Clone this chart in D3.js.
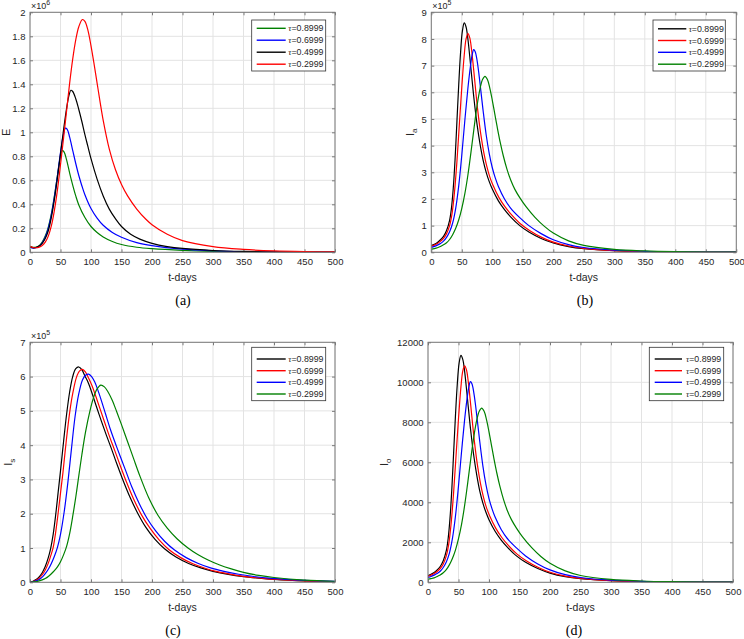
<!DOCTYPE html>
<html><head><meta charset="utf-8">
<script src="https://cdn.jsdelivr.net/npm/d3@7"></script>
<style>body{margin:0;background:#fff}svg{display:block}</style>
</head><body>
<svg id="chart" width="744" height="639"></svg>
<script>
// ---------- data ----------
const tauLabels = ["0.8999", "0.6999", "0.4999", "0.2999"];
const xTickVals = [0, 50, 100, 150, 200, 250, 300, 350, 400, 450, 500];
const yTicksE = [0, 0.2, 0.4, 0.6, 0.8, 1, 1.2, 1.4, 1.6, 1.8, 2];
const yTicksIa = [0, 1, 2, 3, 4, 5, 6, 7, 8, 9];
const yTicksIs = [0, 1, 2, 3, 4, 5, 6, 7];
const yTicksIo = [0, 2000, 4000, 6000, 8000, 10000, 12000];

// (a) E, units of 1e6 : [t, value]
const E_tau08999 = [[0,0.05],[5,0.042],[10,0.043],[15,0.055],[20,0.085],[25,0.135],[30,0.21],[35,0.32],[40,0.47],[45,0.64],[50,0.8],[53,0.85],[56,0.835],[60,0.77],[65,0.66],[70,0.56],[75,0.47],[80,0.395],[90,0.29],[100,0.215],[110,0.165],[120,0.128],[135,0.09],[150,0.065],[175,0.042],[200,0.03],[250,0.016],[300,0.008],[350,0.004],[400,0.002],[450,0.001],[500,0.0005]];
const E_tau06999 = [[0,0.04],[5,0.035],[10,0.038],[15,0.05],[20,0.078],[25,0.125],[30,0.2],[35,0.31],[40,0.46],[45,0.64],[50,0.83],[54,0.96],[58,1.035],[61,1.025],[65,0.96],[70,0.85],[75,0.74],[80,0.64],[85,0.555],[90,0.48],[100,0.365],[110,0.285],[120,0.225],[135,0.165],[150,0.125],[175,0.08],[200,0.055],[250,0.026],[300,0.013],[350,0.006],[400,0.003],[450,0.0015],[500,0.0007]];
const E_tau04999 = [[0,0.045],[5,0.038],[10,0.04],[15,0.052],[20,0.075],[25,0.115],[30,0.18],[35,0.29],[40,0.44],[45,0.62],[50,0.82],[55,1.02],[60,1.2],[64,1.31],[67,1.35],[70,1.34],[75,1.28],[80,1.19],[85,1.09],[90,0.98],[95,0.88],[100,0.78],[110,0.61],[120,0.47],[130,0.36],[140,0.28],[150,0.215],[165,0.15],[180,0.11],[200,0.075],[225,0.048],[250,0.032],[300,0.015],[350,0.007],[400,0.0035],[450,0.0017],[500,0.0008]];
const E_tau02999 = [[0,0.05],[5,0.04],[10,0.038],[15,0.043],[20,0.057],[25,0.085],[30,0.135],[35,0.22],[40,0.35],[45,0.52],[50,0.73],[55,0.95],[60,1.18],[65,1.41],[70,1.61],[75,1.77],[80,1.88],[86,1.94],[90,1.925],[95,1.85],[100,1.72],[105,1.57],[110,1.41],[115,1.25],[120,1.1],[130,0.86],[140,0.69],[150,0.565],[160,0.47],[175,0.36],[190,0.275],[200,0.23],[225,0.15],[250,0.097],[300,0.047],[350,0.024],[400,0.012],[450,0.006],[500,0.003]];

// (b) Ia, units of 1e5
const Ia_tau08999 = [[0,0.25],[5,0.3],[10,0.37],[15,0.47],[20,0.6],[25,0.82],[30,1.2],[33,1.65],[36,2.4],[39,3.5],[42,4.9],[45,6.3],[48,7.5],[51,8.3],[54,8.6],[57,8.45],[60,8.0],[63,7.35],[66,6.65],[70,5.75],[75,4.8],[80,4.05],[85,3.45],[90,3.0],[95,2.65],[100,2.37],[110,1.93],[120,1.6],[130,1.33],[145,1.0],[160,0.76],[180,0.52],[200,0.35],[225,0.215],[250,0.135],[300,0.06],[350,0.028],[400,0.013],[450,0.006],[500,0.003]];
const Ia_tau06999 = [[0,0.22],[5,0.27],[10,0.33],[15,0.41],[20,0.52],[25,0.7],[30,1.0],[34,1.45],[38,2.25],[42,3.4],[46,4.8],[50,6.2],[54,7.4],[57,8.0],[60,8.2],[63,8.05],[66,7.6],[69,6.95],[72,6.25],[76,5.35],[81,4.45],[86,3.75],[91,3.22],[96,2.82],[101,2.52],[111,2.05],[121,1.7],[131,1.42],[146,1.07],[161,0.82],[181,0.56],[200,0.38],[225,0.235],[250,0.15],[300,0.066],[350,0.03],[400,0.014],[450,0.007],[500,0.003]];
const Ia_tau04999 = [[0,0.18],[5,0.22],[10,0.27],[15,0.33],[20,0.42],[25,0.56],[30,0.77],[35,1.1],[40,1.65],[45,2.5],[50,3.65],[55,4.95],[60,6.15],[64,6.95],[67,7.4],[69.5,7.6],[72,7.52],[75,7.2],[78,6.7],[81,6.1],[85,5.3],[90,4.4],[95,3.7],[100,3.17],[105,2.78],[110,2.47],[120,2.0],[130,1.66],[145,1.3],[160,1.0],[180,0.7],[200,0.47],[225,0.29],[250,0.18],[300,0.08],[350,0.036],[400,0.016],[450,0.007],[500,0.003]];
const Ia_tau02999 = [[0,0.12],[5,0.14],[10,0.17],[15,0.22],[20,0.28],[25,0.36],[30,0.48],[35,0.66],[40,0.9],[45,1.22],[50,1.65],[55,2.2],[60,2.9],[65,3.75],[70,4.65],[75,5.5],[80,6.15],[84,6.48],[88,6.6],[92,6.48],[96,6.15],[100,5.7],[104,5.2],[108,4.7],[113,4.12],[118,3.62],[124,3.12],[130,2.72],[137,2.36],[145,2.05],[155,1.72],[170,1.31],[185,0.98],[200,0.72],[225,0.43],[250,0.26],[300,0.11],[350,0.05],[400,0.022],[450,0.01],[500,0.004]];

// (c) Is, units of 1e5
const Is_tau08999 = [[0,0],[5,0.03],[10,0.08],[15,0.16],[20,0.28],[25,0.46],[30,0.72],[34,1.0],[38,1.4],[42,1.95],[46,2.6],[50,3.25],[55,4.1],[60,4.9],[65,5.55],[70,6.0],[75,6.23],[80,6.28],[85,6.2],[90,6.02],[96,5.8],[102,5.5],[109,5.12],[117,4.7],[125,4.3],[133,3.92],[142,3.47],[152,3.0],[164,2.48],[177,2.0],[190,1.6],[205,1.25],[221,0.97],[240,0.73],[260,0.55],[280,0.42],[300,0.32],[325,0.23],[350,0.165],[375,0.12],[400,0.085],[450,0.042],[500,0.02]];
const Is_tau06999 = [[0,0],[5,0.02],[10,0.06],[15,0.12],[20,0.22],[25,0.36],[30,0.56],[35,0.83],[38,1.02],[42,1.45],[46,2.0],[50,2.6],[54,3.2],[59,4.05],[65,4.95],[70,5.5],[76,5.97],[81,6.16],[86,6.21],[91,6.13],[96,5.96],[102,5.72],[108,5.42],[115,5.05],[123,4.63],[131,4.22],[139,3.84],[148,3.4],[158,2.93],[170,2.42],[183,1.96],[197,1.57],[212,1.23],[228,0.95],[247,0.72],[267,0.54],[287,0.41],[307,0.31],[332,0.225],[357,0.16],[382,0.115],[405,0.083],[450,0.044],[500,0.021]];
const Is_tau04999 = [[0,0],[5,0.015],[10,0.04],[15,0.08],[20,0.15],[25,0.25],[30,0.38],[35,0.55],[40,0.76],[45,1.02],[50,1.4],[56,2.05],[62,2.9],[68,3.9],[74,4.85],[80,5.5],[86,5.9],[91,6.04],[96,6.07],[101,6.0],[106,5.85],[111,5.62],[117,5.3],[124,4.9],[132,4.45],[140,4.05],[148,3.67],[157,3.25],[167,2.78],[179,2.3],[192,1.86],[206,1.5],[221,1.19],[237,0.94],[256,0.72],[276,0.55],[296,0.42],[318,0.32],[342,0.235],[367,0.17],[392,0.12],[420,0.085],[450,0.058],[500,0.027]];
const Is_tau02999 = [[0,0],[5,0.01],[10,0.02],[15,0.04],[20,0.07],[25,0.11],[30,0.17],[35,0.25],[40,0.34],[45,0.45],[50,0.6],[55,0.8],[60,1.05],[65,1.42],[70,1.92],[75,2.48],[79,2.98],[85,3.72],[91,4.38],[98,4.98],[104,5.38],[110,5.64],[116,5.75],[122,5.7],[128,5.55],[135,5.3],[142,4.98],[150,4.6],[160,4.1],[170,3.6],[181,3.06],[195,2.45],[210,1.95],[225,1.58],[241,1.27],[259,1.0],[275,0.81],[292,0.65],[310,0.51],[330,0.39],[350,0.29],[375,0.2],[400,0.14],[450,0.065],[500,0.03]];

// (d) Io
const Io_tau08999 = [[0,330],[5,400],[10,490],[15,620],[20,790],[25,1080],[30,1580],[33,2180],[36,3170],[39,4620],[42,6470],[45,8320],[48,9900],[51,10960],[54,11350],[57,11150],[60,10560],[63,9700],[66,8780],[70,7590],[75,6340],[80,5350],[85,4550],[90,3960],[95,3500],[100,3130],[110,2550],[120,2110],[130,1760],[145,1320],[160,1000],[180,690],[200,460],[225,280],[250,180],[300,80],[350,37],[400,17],[450,8],[500,4]];
const Io_tau06999 = [[0,290],[5,360],[10,440],[15,540],[20,690],[25,920],[30,1320],[34,1910],[38,2970],[42,4490],[46,6340],[50,8180],[54,9770],[57,10560],[60,10820],[63,10630],[66,10030],[69,9170],[72,8250],[76,7060],[81,5870],[86,4950],[91,4250],[96,3720],[101,3330],[111,2710],[121,2240],[131,1870],[146,1410],[161,1080],[181,740],[200,500],[225,310],[250,200],[300,87],[350,40],[400,18],[450,9],[500,4]];
const Io_tau04999 = [[0,240],[5,290],[10,360],[15,440],[20,550],[25,740],[30,1020],[35,1450],[40,2180],[45,3300],[50,4820],[55,6530],[60,8120],[64,9170],[67,9770],[69.5,10030],[72,9930],[75,9500],[78,8840],[81,8050],[85,7000],[90,5810],[95,4880],[100,4180],[105,3670],[110,3260],[120,2640],[130,2190],[145,1720],[160,1320],[180,920],[200,620],[225,380],[250,240],[300,106],[350,48],[400,21],[450,9],[500,4]];
const Io_tau02999 = [[0,160],[5,185],[10,220],[15,290],[20,370],[25,480],[30,630],[35,870],[40,1190],[45,1610],[50,2180],[55,2900],[60,3830],[65,4950],[70,6140],[75,7260],[80,8120],[84,8550],[88,8710],[92,8550],[96,8120],[100,7520],[104,6860],[108,6200],[113,5440],[118,4780],[124,4120],[130,3590],[137,3120],[145,2710],[155,2270],[170,1730],[185,1290],[200,950],[225,570],[250,340],[300,145],[350,66],[400,29],[450,13],[500,5]];

// ---------- styles / layout ----------
const GREEN = "#008000", BLUE = "#0000ff", BLACK = "#000000", RED = "#ff0000";
const SANS = "'Liberation Sans', Arial, Helvetica, sans-serif";
const SERIF = "'Liberation Serif', 'DejaVu Serif', serif";
const TXT = "#262626";

const panels = [
  { left: 30, right: 335, top: 12.3, bottom: 252.3, yMax: 2, yTicks: yTicksE, exp: "6",
    ylab: "E", sub: null, ylabX: 6,
    series: [[E_tau08999, GREEN], [E_tau06999, BLUE], [E_tau04999, BLACK], [E_tau02999, RED]],
    legend: { x: 251.7, y: 20, w: 74, h: 51, lx0: 256.7, lx1: 285.7, tx: 288.3, rows: [28.3, 40.2, 52.2, 64.2] },
    caption: "(a)", capX: 183 },
  { left: 431.3, right: 736.3, top: 12.3, bottom: 252.3, yMax: 9, yTicks: yTicksIa, exp: "5",
    ylab: "I", sub: "a", ylabX: 410,
    series: [[Ia_tau08999, BLACK], [Ia_tau06999, RED], [Ia_tau04999, BLUE], [Ia_tau02999, GREEN]],
    legend: { x: 653, y: 20, w: 72.3, h: 51, lx0: 658, lx1: 686.3, tx: 688.7, rows: [28.8, 40.5, 52.3, 64.2] },
    caption: "(b)", capX: 585 },
  { left: 30, right: 335, top: 342.3, bottom: 582.3, yMax: 7, yTicks: yTicksIs, exp: "5",
    ylab: "I", sub: "s", ylabX: 8,
    series: [[Is_tau08999, BLACK], [Is_tau06999, RED], [Is_tau04999, BLUE], [Is_tau02999, GREEN]],
    legend: { x: 251.7, y: 347.3, w: 74, h: 53.4, lx0: 256.7, lx1: 285.7, tx: 288.3, rows: [359, 370.7, 382.3, 394] },
    caption: "(c)", capX: 173 },
  { left: 428, right: 733, top: 342.3, bottom: 582.3, yMax: 12000, yTicks: yTicksIo, exp: null,
    ylab: "I", sub: "o", ylabX: 384,
    series: [[Io_tau08999, BLACK], [Io_tau06999, RED], [Io_tau04999, BLUE], [Io_tau02999, GREEN]],
    legend: { x: 649.3, y: 347.3, w: 74.4, h: 53.4, lx0: 654.7, lx1: 682, tx: 686, rows: [359, 370.7, 382.3, 394] },
    caption: "(d)", capX: 574 }
];

const svg = d3.select("#chart");

panels.forEach(p => {
  const x = d3.scaleLinear().domain([0, 500]).range([p.left, p.right]);
  const y = d3.scaleLinear().domain([0, p.yMax]).range([p.bottom, p.top]);
  const g = svg.append("g");

  // grid
  g.append("g").selectAll("line").data(xTickVals).join("line")
    .attr("x1", d => x(d)).attr("x2", d => x(d)).attr("y1", p.top).attr("y2", p.bottom)
    .attr("stroke", "#e3e3e3").attr("stroke-width", 1);
  g.append("g").selectAll("line").data(p.yTicks).join("line")
    .attr("y1", d => y(d)).attr("y2", d => y(d)).attr("x1", p.left).attr("x2", p.right)
    .attr("stroke", "#e3e3e3").attr("stroke-width", 1);

  // axes
  const fmt = d => String(d);
  const xb = g.append("g").attr("transform", `translate(0,${p.bottom})`)
    .call(d3.axisBottom(x).tickValues(xTickVals).tickFormat(fmt).tickSizeInner(-3).tickSizeOuter(0).tickPadding(6));
  const yl = g.append("g").attr("transform", `translate(${p.left},0)`)
    .call(d3.axisLeft(y).tickValues(p.yTicks).tickFormat(fmt).tickSizeInner(-3).tickSizeOuter(0).tickPadding(4.5));
  const xt = g.append("g").attr("transform", `translate(0,${p.top})`)
    .call(d3.axisTop(x).tickValues(xTickVals).tickFormat("").tickSizeInner(-3).tickSizeOuter(0));
  const yr = g.append("g").attr("transform", `translate(${p.right},0)`)
    .call(d3.axisRight(y).tickValues(p.yTicks).tickFormat("").tickSizeInner(-3).tickSizeOuter(0));
  [xb, yl, xt, yr].forEach(a => {
    a.select(".domain").remove();
    a.selectAll(".tick line").attr("stroke", "#7a7a7a");
    a.selectAll("text").attr("fill", TXT).style("font-family", SANS).style("font-size", "9.5px");
  });

  // lines
  const line = d3.line().x(d => x(d[0])).y(d => y(d[1])).curve(d3.curveCatmullRom.alpha(0.5));
  const clipId = "clip" + p.caption.replace(/[()]/g, "");
  svg.append("clipPath").attr("id", clipId).append("rect")
    .attr("x", p.left).attr("y", p.top - 1).attr("width", p.right - p.left).attr("height", p.bottom - p.top + 1);
  g.append("g").attr("clip-path", `url(#${clipId})`).selectAll("path").data(p.series).join("path")
    .attr("d", d => line(d[0])).attr("fill", "none").attr("stroke", d => d[1]).attr("stroke-width", 1.2);

  // box
  g.append("rect").attr("x", p.left).attr("y", p.top).attr("width", p.right - p.left).attr("height", p.bottom - p.top)
    .attr("fill", "none").attr("stroke", "#7a7a7a").attr("stroke-width", 1);

  // x label
  g.append("text").attr("x", (p.left + p.right) / 2).attr("y", p.bottom + 28.5)
    .attr("text-anchor", "middle").attr("fill", TXT).style("font-family", SANS).style("font-size", "10.5px")
    .text("t-days");

  // y label
  const yc = (p.top + p.bottom) / 2;
  const yt = g.append("text").attr("transform", `translate(${p.ylabX},${yc}) rotate(-90)`)
    .attr("text-anchor", "middle").attr("dy", "0.35em").attr("fill", TXT)
    .style("font-family", SANS).style("font-size", "11px");
  yt.append("tspan").text(p.ylab);
  if (p.sub) yt.append("tspan").attr("dy", "0.35em").style("font-size", "8px").text(p.sub);

  // exponent
  if (p.exp) {
    const et = g.append("text").attr("x", p.left + 1).attr("y", p.top - 3)
      .attr("fill", TXT).style("font-family", SANS).style("font-size", "9px");
    et.append("tspan").text("\u00d710");
    et.append("tspan").attr("dy", "-4").style("font-size", "7px").text(p.exp);
  }

  // legend
  const L = p.legend;
  const lg = g.append("g");
  lg.append("rect").attr("x", L.x).attr("y", L.y).attr("width", L.w).attr("height", L.h)
    .attr("fill", "#fff").attr("stroke", "#333").attr("stroke-width", 0.8);
  p.series.forEach((s, i) => {
    lg.append("line").attr("x1", L.lx0).attr("x2", L.lx1).attr("y1", L.rows[i]).attr("y2", L.rows[i])
      .attr("stroke", s[1]).attr("stroke-width", 1.4);
    const t = lg.append("text").attr("x", L.tx).attr("y", L.rows[i]).attr("dy", "0.35em")
      .attr("fill", TXT).style("font-family", SANS).style("font-size", "8.8px");
    t.append("tspan").style("font-family", SERIF).style("font-style", "italic").text("\u03c4");
    t.append("tspan").text("=" + tauLabels[i]);
  });

  // caption
  svg.append("text").attr("x", p.capX).attr("y", p.bottom + 52.5)
    .attr("text-anchor", "middle").attr("fill", "#000").style("font-family", SERIF).style("font-size", "14px")
    .text(p.caption);
});
</script>
</body></html>
